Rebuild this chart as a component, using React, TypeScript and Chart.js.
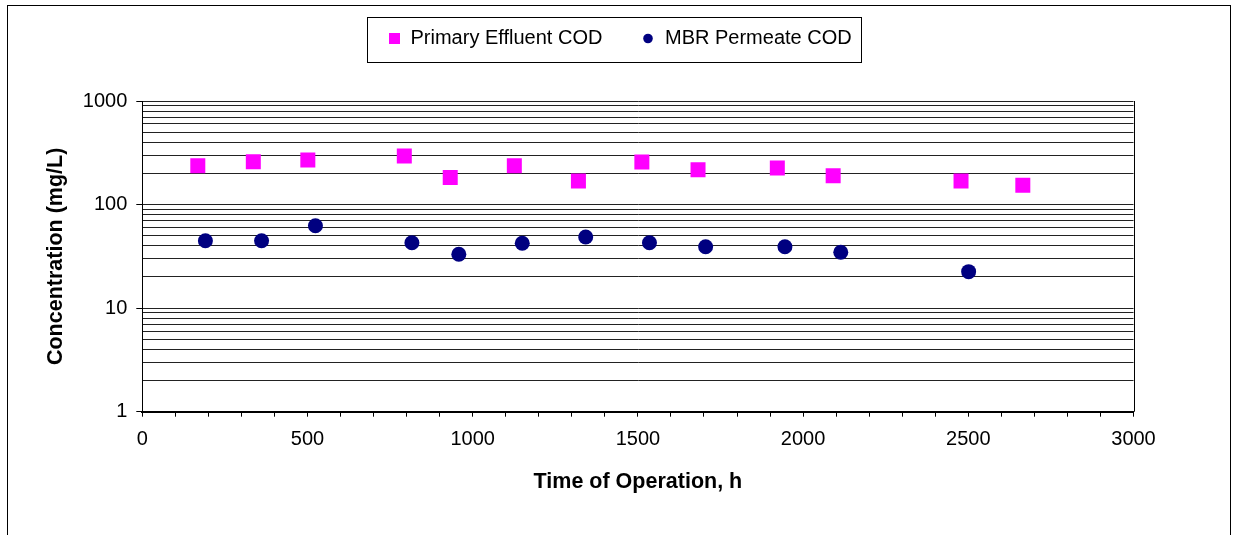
import React, { useEffect, useRef } from "react";
import { Chart, registerables } from "chart.js";

Chart.register(...registerables);

// ---- Data ----
const primaryHours = [168, 336, 501, 793, 932, 1126, 1320, 1512, 1682, 1922, 2091, 2478, 2665];
const primaryCOD = [237, 259, 269, 294, 183, 237, 169, 258, 217, 225, 190, 169, 154];
const mbrHours = [191, 361, 524, 816, 958, 1150, 1342, 1535, 1705, 1945, 2114, 2501];
const mbrCOD = [44.8, 44.8, 62.5, 42.8, 33.1, 42.3, 48.6, 42.8, 39.2, 39.2, 34.6, 22.5];

const seriesLabels = ["Primary Effluent COD", "MBR Permeate COD"];
const xTickLabels = [0, 500, 1000, 1500, 2000, 2500, 3000];
const yTickLabels = [1, 10, 100, 1000];
const yMinorSteps = [2, 3, 4, 5, 6, 7, 8, 9];
const xTitle = "Time of Operation, h";
const yTitle = "Concentration (mg/L)";

const FONT = "Arial, 'Liberation Sans', sans-serif";
const PINK = "#FF00FF";
const NAVY = "#000080";

const yGridValues: number[] = (() => {
  const out: number[] = [];
  yTickLabels.forEach((d, i) => {
    out.push(d);
    if (i < yTickLabels.length - 1) yMinorSteps.forEach((m) => out.push(d * m));
  });
  return out;
})();

const decorPlugin = {
  id: "decor",
  afterDraw(chart: any) {
    const ctx = chart.ctx as CanvasRenderingContext2D;
    const a = chart.chartArea;
    ctx.save();
    ctx.strokeStyle = "#000";
    ctx.lineWidth = 1;
    // right edge of the plot area
    const rx = Math.round(a.right) + 0.5;
    ctx.beginPath();
    ctx.moveTo(rx, a.top);
    ctx.lineTo(rx, a.bottom);
    ctx.stroke();
    // outer chart frame
    ctx.strokeRect(7.5, 5.5, 1223, 600);
    // legend box
    ctx.strokeRect(367.5, 17.5, 494, 45);
    // legend markers
    const ds = chart.data.datasets;
    ctx.fillStyle = ds[0].backgroundColor;
    ctx.fillRect(389, 33, 11, 11);
    ctx.fillStyle = ds[1].backgroundColor;
    ctx.beginPath();
    ctx.arc(648, 38.5, 4.8, 0, Math.PI * 2);
    ctx.fill();
    // legend texts
    ctx.fillStyle = "#000";
    ctx.font = `20px ${FONT}`;
    ctx.textBaseline = "middle";
    ctx.textAlign = "left";
    ctx.fillText(ds[0].label, 410.5, 38);
    ctx.fillText(ds[1].label, 665, 38);
    ctx.restore();
  },
};

export default function App() {
  const canvasRef = useRef<HTMLCanvasElement | null>(null);

  useEffect(() => {
    const canvas = canvasRef.current;
    if (!canvas) return;
    const chart = new Chart(canvas, {
      type: "scatter",
      data: {
        datasets: [
          {
            label: seriesLabels[0],
            data: primaryHours.map((x, i) => ({ x, y: primaryCOD[i] })),
            pointStyle: "rect",
            pointRadius: 10.6,
            pointHoverRadius: 10.6,
            backgroundColor: PINK,
            borderColor: PINK,
            borderWidth: 0,
          },
          {
            label: seriesLabels[1],
            data: mbrHours.map((x, i) => ({ x, y: mbrCOD[i] })),
            pointStyle: "circle",
            pointRadius: 7.5,
            pointHoverRadius: 7.5,
            backgroundColor: NAVY,
            borderColor: NAVY,
            borderWidth: 0,
          },
        ],
      },
      options: {
        animation: false,
        responsive: false,
        events: [],
        layout: { padding: { top: 101, right: 101.5, bottom: 0, left: 0 } },
        plugins: {
          legend: { display: false },
          tooltip: { enabled: false },
        },
        scales: {
          x: {
            type: "linear",
            min: 0,
            max: 3000,
            ticks: {
              stepSize: 100,
              autoSkip: false,
              maxRotation: 0,
              padding: 11,
              color: "#000",
              font: { family: FONT, size: 20 },
              callback: (v: any) => (xTickLabels.includes(Number(v)) ? String(v) : ""),
            },
            grid: {
              drawOnChartArea: false,
              drawTicks: true,
              tickLength: 5,
              tickColor: "#000",
              tickWidth: 1,
            },
            border: { display: true, color: "#000", width: 2 },
            title: {
              display: true,
              text: xTitle,
              color: "#000",
              font: { family: FONT, size: 21.5, weight: "bold" },
              padding: { top: 0, bottom: 40 },
            },
            afterFit: (s: any) => {
              s.height = 123.3;
            },
          },
          y: {
            type: "logarithmic",
            min: 1,
            max: 1000,
            afterBuildTicks: (s: any) => {
              s.ticks = yGridValues.map((v) => ({ value: v, major: yTickLabels.includes(v) }));
            },
            ticks: {
              autoSkip: false,
              padding: 9,
              color: "#000",
              font: { family: FONT, size: 20 },
              callback: (v: any) => (yTickLabels.includes(Number(v)) ? String(v) : ""),
            },
            grid: {
              color: "#222",
              lineWidth: 1,
              drawTicks: true,
              tickLength: 6,
              tickWidth: 1,
              tickColor: (c: any) =>
                c.tick && yTickLabels.includes(c.tick.value) ? "#000" : "rgba(0,0,0,0)",
            },
            border: { display: true, color: "#000", width: 1 },
            title: {
              display: true,
              text: yTitle,
              color: "#000",
              font: { family: FONT, size: 21.5, weight: "bold" },
              padding: { top: 43, bottom: 0 },
            },
            afterFit: (s: any) => {
              s.width = 142.3;
            },
          },
        },
      } as any,
      plugins: [decorPlugin],
    });
    return () => chart.destroy();
  }, []);

  return (
    <div style={{ position: "absolute", left: 0, top: 0, width: 1235, height: 535, background: "#fff" }}>
      <canvas ref={canvasRef} width={1235} height={535} style={{ display: "block" }} />
    </div>
  );
}
